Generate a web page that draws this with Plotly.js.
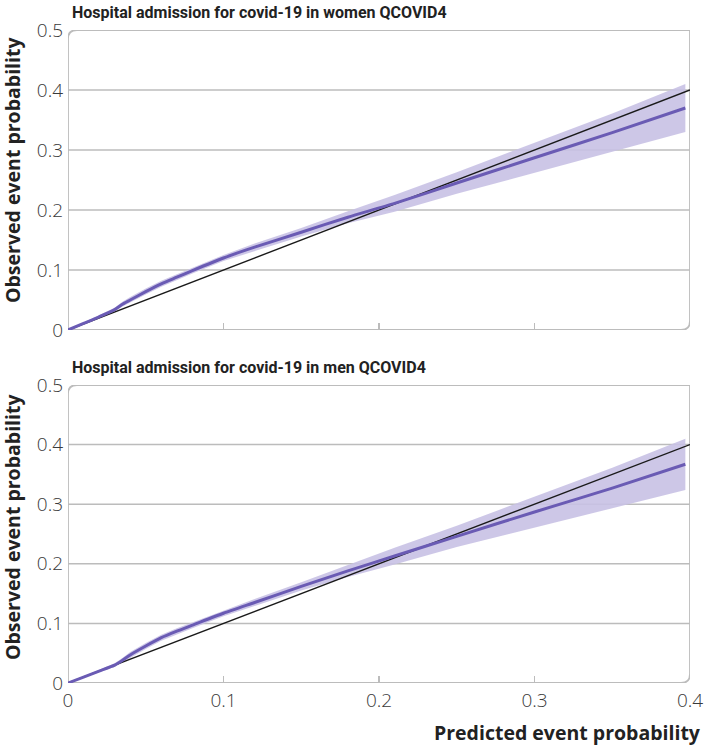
<!DOCTYPE html>
<html>
<head>
<meta charset="utf-8">
<script src="https://cdn.plot.ly/plotly-3.0.1.min.js"></script>
<style>html,body{margin:0;padding:0;background:#fff;}#chart{width:704px;height:745px;}</style>
</head>
<body>
<div id="chart"></div>
<script>
// ---- data ----
const panelTitles = ["Hospital admission for covid-19 in women QCOVID4",
                     "Hospital admission for covid-19 in men QCOVID4"];
const predicted = [0, 0.01, 0.02, 0.03, 0.035, 0.04, 0.05, 0.06, 0.07, 0.08, 0.1, 0.12, 0.15, 0.18, 0.21, 0.25, 0.3, 0.35, 0.397];
const womenObserved = [0, 0.011, 0.022, 0.034, 0.043, 0.05, 0.064, 0.077, 0.088, 0.099, 0.12, 0.138, 0.163, 0.188, 0.211, 0.245, 0.287, 0.329, 0.37];
const womenUpper    = [0, 0.012, 0.024, 0.037, 0.047, 0.055, 0.069, 0.082, 0.093, 0.104, 0.125, 0.144, 0.170, 0.198, 0.225, 0.263, 0.312, 0.361, 0.41];
const womenLower    = [0, 0.010, 0.020, 0.031, 0.039, 0.046, 0.059, 0.072, 0.083, 0.094, 0.115, 0.132, 0.156, 0.178, 0.197, 0.227, 0.262, 0.297, 0.33];
const menObserved = [0, 0.010, 0.020, 0.030, 0.038, 0.047, 0.062, 0.076, 0.087, 0.097, 0.117, 0.135, 0.162, 0.188, 0.213, 0.246, 0.287, 0.327, 0.367];
const menUpper    = [0, 0.011, 0.022, 0.033, 0.042, 0.052, 0.067, 0.081, 0.092, 0.102, 0.122, 0.141, 0.169, 0.198, 0.227, 0.264, 0.313, 0.361, 0.41];
const menLower    = [0, 0.009, 0.018, 0.027, 0.034, 0.042, 0.057, 0.071, 0.082, 0.092, 0.112, 0.129, 0.155, 0.178, 0.199, 0.228, 0.261, 0.293, 0.324];
const identityLine = [0, 0.4];
const xTicks = [0, 0.1, 0.2, 0.3, 0.4];
const xTickText = ["0", "0.1", "0.2", "0.3", "0.4"];
const yTicks = [0, 0.1, 0.2, 0.3, 0.4, 0.5];
const yTickText = ["0", "0.1", "0.2", "0.3", "0.4", "0.5"];
const gridVals = [0.1, 0.2, 0.3, 0.4];
const xRange = [0, 0.4];
const yRange = [0, 0.5];

// ---- styling ----
const PURPLE = "#6a5bb4";
const BAND = "rgba(200,193,228,0.9)";
const GRID = "#bcbcbc";
const FONT = "Open Sans, Lato, sans-serif";

function panelTraces(obs, up, lo, xa, ya) {
  const bandX = predicted.concat(predicted.slice().reverse());
  const bandY = up.concat(lo.slice().reverse());
  return [
    {x: bandX, y: bandY, xaxis: xa, yaxis: ya, type: "scatter", mode: "lines",
     fill: "toself", fillcolor: BAND, line: {width: 0}, hoverinfo: "skip", showlegend: false},
    {x: identityLine, y: identityLine, xaxis: xa, yaxis: ya, type: "scatter", mode: "lines",
     line: {color: "#1a1a1a", width: 1.4}, showlegend: false},
    {x: predicted, y: obs, xaxis: xa, yaxis: ya, type: "scatter", mode: "lines",
     line: {color: PURPLE, width: 3, shape: "spline", smoothing: 0.6}, showlegend: false}
  ];
}

const data = panelTraces(womenObserved, womenUpper, womenLower, "x", "y")
  .concat(panelTraces(menObserved, menUpper, menLower, "x2", "y2"));

// plot geometry
const H = 745, W = 704;
const topDom = [(H - 330) / H, (H - 30) / H];
const botDom = [(H - 683) / H, (H - 385) / H];
const plotWpx = 690 - 68;

function framePath(domPx) {
  const rx = 9 / plotWpx * (xRange[1] - xRange[0]);
  const ry = 9 / domPx * (yRange[1] - yRange[0]);
  const x0 = xRange[0], x1 = xRange[1], y0 = yRange[0], y1 = yRange[1];
  return `M ${x0},${y0} L ${x0},${y1 - ry} Q ${x0},${y1} ${x0 + rx},${y1} L ${x1},${y1} L ${x1},${y0 + ry} Q ${x1},${y0} ${x1 - rx},${y0} Z`;
}

const shapes = [];
[["x", "y", 300], ["x2", "y2", 298]].forEach(([xa, ya, hpx]) => {
  gridVals.forEach(v => shapes.push({type: "line", xref: xa, yref: ya, x0: xRange[0], x1: xRange[1], y0: v, y1: v,
    line: {color: GRID, width: 1.5}, layer: "below"}));
  shapes.push({type: "path", xref: xa, yref: ya, path: framePath(hpx), line: {color: GRID, width: 1.8}, layer: "below"});
});

const tickFont = {family: FONT, size: 19, color: "#3a3a3a", weight: 300};
const axX = {range: xRange, tickvals: xTicks, ticktext: xTickText, ticks: "inside", ticklen: 7,
  tickcolor: GRID, tickwidth: 1.5, showgrid: false, zeroline: false, showline: false, fixedrange: true,
  ticklabelstandoff: 4, tickfont: tickFont};
const axY = {range: yRange, tickvals: yTicks, ticktext: yTickText, ticks: "", showgrid: false, zeroline: false,
  showline: false, ticklabelstandoff: 4, tickfont: tickFont};

const titleFont = {family: "Roboto, Open Sans, sans-serif", size: 16, color: "#222", weight: "bold"};
const axisTitleFont = {family: FONT, size: 19.5, color: "#222", weight: "bold"};

const layout = {
  width: W, height: H,
  margin: {l: 68, r: 14, t: 0, b: 0},
  paper_bgcolor: "#fff", plot_bgcolor: "rgba(0,0,0,0)",
  showlegend: false,
  xaxis: Object.assign({}, axX, {anchor: "y", domain: [0, 1], showticklabels: false}),
  yaxis: Object.assign({}, axY, {anchor: "x", domain: topDom}),
  xaxis2: Object.assign({}, axX, {anchor: "y2", domain: [0, 1], showticklabels: true}),
  yaxis2: Object.assign({}, axY, {anchor: "x2", domain: botDom}),
  shapes: shapes,
  annotations: [
    {text: panelTitles[0], xref: "paper", yref: "paper", x: 0.003, y: (H - 12) / H, xanchor: "left", yanchor: "middle", showarrow: false, font: titleFont},
    {text: panelTitles[1], xref: "paper", yref: "paper", x: 0.003, y: (H - 367) / H, xanchor: "left", yanchor: "middle", showarrow: false, font: titleFont},
    {text: "Observed event probability", xref: "paper", yref: "paper", x: -56 / (W - 82), y: (H - 170) / H, xanchor: "center", yanchor: "middle", textangle: -90, showarrow: false, font: axisTitleFont},
    {text: "Observed event probability", xref: "paper", yref: "paper", x: -56 / (W - 82), y: (H - 527) / H, xanchor: "center", yanchor: "middle", textangle: -90, showarrow: false, font: axisTitleFont},
    {text: "Predicted event probability", xref: "paper", yref: "paper", x: (703 - 68) / (W - 82), y: (H - 732) / H, xanchor: "right", yanchor: "middle", showarrow: false, font: axisTitleFont}
  ]
};

Plotly.newPlot("chart", data, layout, {displayModeBar: false, staticPlot: true});
</script>
</body>
</html>
